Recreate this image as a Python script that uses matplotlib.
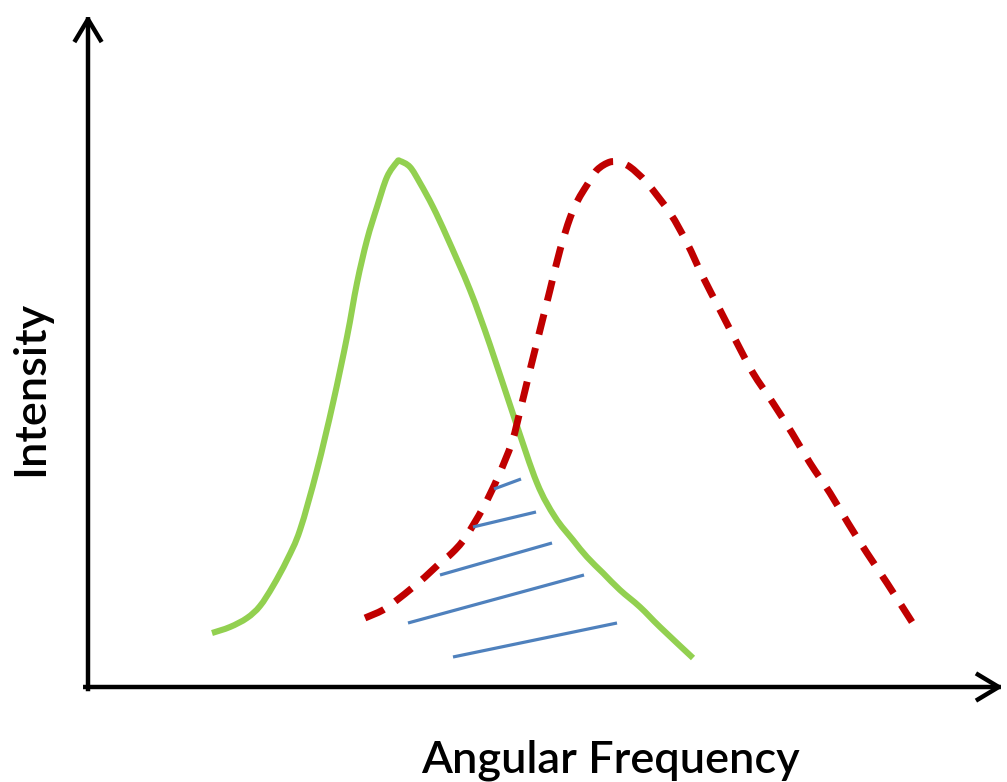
import matplotlib
matplotlib.use("Agg")
import matplotlib.pyplot as plt
from matplotlib.path import Path
from matplotlib.patches import PathPatch
import numpy as np

plt.rcParams['lines.scale_dashes'] = False

# Data (chart units: origin at axis corner)
green_x = [124, 142, 159, 172, 185, 199, 212, 229, 245, 259, 269, 279, 289, 299, 309, 312, 322, 332, 345, 359, 382, 402, 427, 449, 467, 485, 499, 515, 532, 552, 572, 605]
green_y = [54, 60, 69, 81, 101, 127, 157, 217, 284, 350, 404, 447, 480, 510, 525, 526, 520, 504, 480, 450, 397, 342, 267, 204, 170, 147, 130, 114, 97, 80, 60, 29]

red_x = [277, 295, 309, 324, 337, 352, 364, 377, 395, 410, 424, 433, 442, 452, 462, 472, 482, 490, 499, 509, 522, 532, 542, 559, 582, 599, 615, 632, 649, 665, 685, 704, 722, 742, 760, 779, 799, 824]
red_y = [69, 77, 87, 99, 110, 124, 134, 149, 179, 210, 245, 280, 317, 357, 397, 437, 469, 487, 502, 517, 525, 524, 520, 504, 474, 444, 410, 377, 344, 314, 284, 254, 224, 194, 164, 134, 104, 65]

hatch_x0 = [406, 385, 352, 320, 365]
hatch_y0 = [198, 160, 112, 64, 30]
hatch_x1 = [433, 448, 464, 496, 529]
hatch_y1 = [208, 175, 144, 112, 64]

x_label = "Angular Frequency"
y_label = "Intensity"


def smooth_path(xs, ys):
    """Catmull-Rom curve through the given points, as cubic Bezier segments."""
    p = np.column_stack([xs, ys]).astype(float)
    verts = [p[0]]
    codes = [Path.MOVETO]
    n = len(p)
    for i in range(n - 1):
        p0 = p[i - 1] if i > 0 else p[i]
        p1 = p[i]
        p2 = p[i + 1]
        p3 = p[i + 2] if i + 2 < n else p[i + 1]
        c1 = p1 + (p2 - p0) / 6.0
        c2 = p2 - (p3 - p1) / 6.0
        verts += [c1, c2, p2]
        codes += [Path.CURVE4] * 3
    return Path(verts, codes)


W, H = 1007, 782
fig = plt.figure(figsize=(W / 100, H / 100), dpi=100)
ox, oy = 88, 687
ax = fig.add_axes([ox / W, (H - oy) / H, (1003 - ox) / W, (oy - 15) / H])
ax.set_xlim(0, 1003 - ox)
ax.set_ylim(0, oy - 15)
ax.axis('off')

ax.add_patch(PathPatch(smooth_path(green_x, green_y), facecolor='none',
                       edgecolor='#92D050', lw=4.4, capstyle='butt', joinstyle='round'))
ax.add_patch(PathPatch(smooth_path(red_x, red_y), facecolor='none',
                       edgecolor='#C00000', lw=5.0, linestyle=(0, (15, 10)),
                       capstyle='butt', joinstyle='round'))
for x0, y0, x1, y1 in zip(hatch_x0, hatch_y0, hatch_x1, hatch_y1):
    ax.plot([x0, x1], [y0, y1], color='#4F81BD', lw=2.3, solid_capstyle='butt')

arrow = dict(arrowstyle='->,head_length=0.75,head_width=0.45', lw=3.2, color='black',
             mutation_scale=20, shrinkA=0, shrinkB=0, capstyle='projecting')
ax.annotate('', xy=(0, 1), xytext=(0, -0.003), xycoords='axes fraction',
            arrowprops=arrow, annotation_clip=False)
ax.annotate('', xy=(1, 0), xytext=(-0.003, 0), xycoords='axes fraction',
            arrowprops=arrow, annotation_clip=False)

fig.text(610 / W, 1 - 760 / H, x_label, ha='center', va='center', fontsize=32.5,
         weight='semibold', family=['Lato', 'DejaVu Sans'], color='black')
fig.text(31 / W, 1 - 388 / H, y_label, ha='center', va='center', fontsize=32.5,
         weight='semibold', rotation=90, family=['Lato', 'DejaVu Sans'], color='black')

fig.savefig('out.png', dpi=100)
